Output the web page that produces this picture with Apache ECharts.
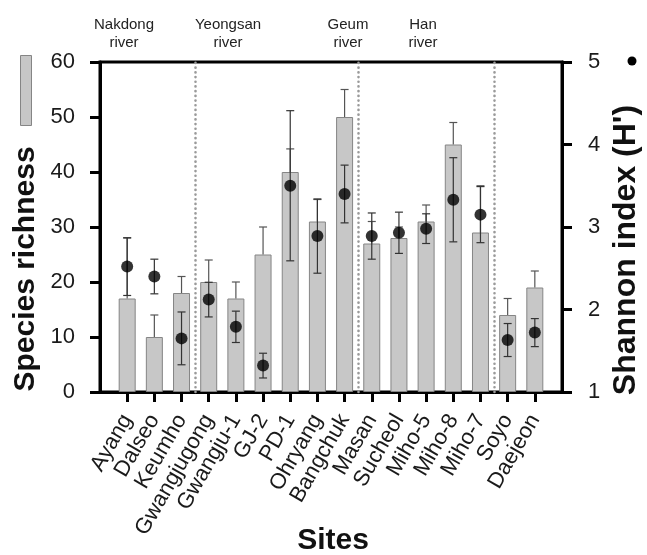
<!DOCTYPE html>
<html>
<head>
<meta charset="utf-8">
<script src="https://cdn.jsdelivr.net/npm/echarts@6/dist/echarts.min.js"></script>
<style>html,body{margin:0;padding:0;background:#fff;}#c{width:647px;height:555px;}</style>
</head>
<body>
<div id="c"></div>
<script>
// ---- data ----
const sites = ['Ayang','Dalseo','Keumho','Gwangjugong','Gwangju-1','GJ-2','PD-1','Ohryang','Bangchuk','Masan','Sucheol','Miho-5','Miho-8','Miho-7','Soyo','Daejeon'];
const richness    = [17, 10, 18, 20, 17, 25, 40, 31, 50, 27, 28, 31, 45, 29, 14, 19];
const richnessErr = [11, 4, 3, 4, 3, 5, 4.2, 4, 5, 4, 2, 3, 4, 8.5, 3, 3];
const shannon     = [2.52, 2.40, 1.65, 2.12, 1.79, 1.32, 3.50, 2.89, 3.40, 2.89, 2.93, 2.98, 3.33, 3.15, 1.63, 1.72];
const shannonErr  = [0.35, 0.21, 0.32, 0.21, 0.19, 0.15, 0.91, 0.45, 0.35, 0.28, 0.25, 0.18, 0.51, 0.34, 0.20, 0.17];
const riverNames  = ['Nakdong\nriver', 'Yeongsan\nriver', 'Geum\nriver', 'Han\nriver'];
const riverSizes  = [3, 6, 5, 2];
const leftTicks   = [0, 10, 20, 30, 40, 50, 60];
const rightTicks  = [1, 2, 3, 4, 5];

// ---- derived ----
const idx = sites.map((s, i) => i);
const breaks = [];
let acc = 0;
riverSizes.slice(0, -1).forEach(n => { acc += n; breaks.push(acc - 0.5); });

const FONT = "'Liberation Sans', Arial, Helvetica, sans-serif";
const chart = echarts.init(document.getElementById('c'), null, {renderer: 'canvas'});

function errRender(withLowerCap, color) {
  return function (params, api) {
    const x = api.value(0), lo = api.value(1), hi = api.value(2);
    const a = api.coord([x, lo]);
    const b = api.coord([x, hi]);
    const hw = 4;
    const st = {stroke: color, lineWidth: 1.2};
    const ch = [
      {type: 'line', shape: {x1: a[0], y1: a[1], x2: b[0], y2: b[1]}, style: st},
      {type: 'line', shape: {x1: b[0] - hw, y1: b[1], x2: b[0] + hw, y2: b[1]}, style: st}
    ];
    if (withLowerCap) ch.push({type: 'line', shape: {x1: a[0] - hw, y1: a[1], x2: a[0] + hw, y2: a[1]}, style: st});
    return {type: 'group', children: ch};
  };
}

const riverX = [124, 228, 348, 423];

const option = {
  animation: false,
  backgroundColor: '#fff',
  textStyle: {fontFamily: FONT},
  grid: {left: 100, right: 85, top: 62, bottom: 163, show: true, borderColor: '#000', borderWidth: 3, backgroundColor: 'transparent'},
  xAxis: {
    type: 'value', min: -1, max: 16, interval: 1,
    axisLine: {show: true, onZero: false, lineStyle: {color: '#000', width: 3}},
    axisTick: {show: true, customValues: idx, length: 10, lineStyle: {color: '#000', width: 3}},
    axisLabel: {customValues: idx, formatter: v => sites[v] || '', rotate: 60, fontSize: 22, color: '#1a1a1a', margin: 24, fontFamily: FONT},
    splitLine: {show: false}
  },
  yAxis: [
    {
      type: 'value', min: 0, max: 60, interval: 10, position: 'left',
      axisLine: {show: true, onZero: false, lineStyle: {color: '#000', width: 3}},
      axisTick: {show: true, length: 10, lineStyle: {color: '#000', width: 3}},
      axisLabel: {fontSize: 22, color: '#1a1a1a', margin: 25, fontFamily: FONT, customValues: leftTicks},
      splitLine: {show: false}
    },
    {
      type: 'value', min: 1, max: 5, interval: 1, position: 'right',
      axisLine: {show: true, onZero: false, lineStyle: {color: '#000', width: 3}},
      axisTick: {show: true, length: 10, lineStyle: {color: '#000', width: 3}},
      axisLabel: {fontSize: 22, color: '#1a1a1a', margin: 26, fontFamily: FONT, customValues: rightTicks},
      splitLine: {show: false}
    }
  ],
  series: [
    {
      type: 'bar', name: 'Species richness', yAxisIndex: 0, barWidth: 17, z: 2,
      data: idx.map(i => [i, richness[i]]),
      itemStyle: {color: '#c7c7c7', borderColor: '#858585', borderWidth: 1},
      markLine: {
        silent: true, symbol: 'none', label: {show: false},
        lineStyle: {color: '#9a9a9a', width: 2.6, type: [0.1, 4.6], cap: 'round'},
        data: breaks.map(b => ({xAxis: b}))
      }
    },
    {
      type: 'custom', yAxisIndex: 0, z: 3, silent: true,
      renderItem: errRender(false, '#555'),
      encode: {x: 0, y: [1, 2]},
      data: idx.map(i => [i, richness[i], richness[i] + richnessErr[i]])
    },
    {
      type: 'custom', yAxisIndex: 1, z: 4, silent: true,
      renderItem: errRender(true, '#333'),
      encode: {x: 0, y: [1, 2]},
      data: idx.map(i => [i, shannon[i] - shannonErr[i], shannon[i] + shannonErr[i]])
    },
    {
      type: 'scatter', name: "Shannon index (H')", yAxisIndex: 1, z: 5,
      symbol: 'circle', symbolSize: 12,
      itemStyle: {color: '#000'},
      data: idx.map(i => [i, shannon[i]])
    }
  ],
  graphic: [
    {type: 'rect', left: 20, top: 55, shape: {width: 11, height: 70}, style: {fill: '#c7c7c7', stroke: '#858585', lineWidth: 1}},
    {type: 'circle', x: 632, y: 61, shape: {r: 4.5}, style: {fill: '#000'}},
    {type: 'text', x: 26, y: 269, rotation: Math.PI / 2, style: {text: 'Species richness', font: 'bold 30px ' + FONT, fill: '#111', textAlign: 'center', textVerticalAlign: 'middle'}},
    {type: 'text', x: 626, y: 250, rotation: Math.PI / 2, style: {text: "Shannon index (H')", font: 'bold 32px ' + FONT, fill: '#111', textAlign: 'center', textVerticalAlign: 'middle'}},
    {type: 'text', x: 333, y: 541, style: {text: 'Sites', font: 'bold 30px ' + FONT, fill: '#111', textAlign: 'center', textVerticalAlign: 'middle'}}
  ].concat(riverNames.map((t, k) => ({
    type: 'text', x: riverX[k], y: 34,
    style: {text: t, font: '15px ' + FONT, lineHeight: 18, fill: '#222', textAlign: 'center', textVerticalAlign: 'middle'}
  })))
};
chart.setOption(option);
</script>
</body>
</html>
